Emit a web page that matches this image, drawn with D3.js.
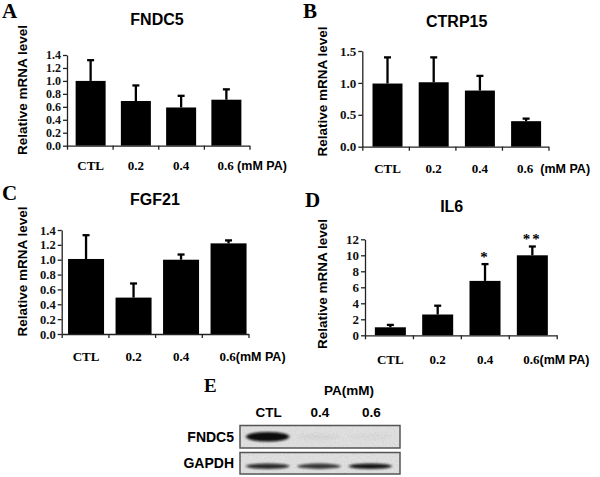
<!DOCTYPE html>
<html>
<head>
<meta charset="utf-8">
<title>PA treatment</title>
<script src="https://d3js.org/d3.v7.min.js"></script>
<style>
  body { margin: 0; background: #fff; }
  svg { display: block; }
  .serif { font-family: "Liberation Serif", "Times New Roman", serif; font-weight: bold; }
  .sans { font-family: "Liberation Sans", Arial, sans-serif; font-weight: bold; }
  .axis path, .axis line { stroke: #222; stroke-width: 1.3px; }
  .axis text { font-family: "Liberation Serif", "Times New Roman", serif; font-weight: bold; fill: #111; }
</style>
</head>
<body>
<div id="fig"></div>
<script>
// data
var groups = ["CTL", "0.2", "0.4", "0.6"];

var fndc5Mean = [1.00, 0.69, 0.59, 0.71];
var fndc5Sd   = [0.32, 0.24, 0.18, 0.16];

var ctrp15Mean = [0.99, 1.01, 0.88, 0.40];
var ctrp15Sd   = [0.41, 0.39, 0.23, 0.04];

var fgf21Mean = [1.01, 0.49, 1.00, 1.22];
var fgf21Sd   = [0.32, 0.19, 0.07, 0.04];

var il6Mean = [1.0, 2.6, 6.8, 10.0];
var il6Sd   = [0.3, 1.1, 2.1, 1.1];
var il6Sig  = ["", "", "*", "**"];

var ticksFine = [0, 0.2, 0.4, 0.6, 0.8, 1.0, 1.2, 1.4];
var ticksHalf = [0, 0.5, 1.0, 1.5];
var ticksIl6  = [0, 2, 4, 6, 8, 10, 12];

var blotLanes = ["CTL", "0.4", "0.6"];
var fndc5Blot = [1.0, 0.03, 0.02];
var gapdhBlot = [0.85, 0.8, 0.95];

var W = 600, H = 477;

var svg = d3.select("#fig").append("svg")
  .attr("width", W)
  .attr("height", H);

var defs = svg.append("defs");
var blur = defs.append("filter").attr("id", "bandBlur")
  .attr("x", "-30%").attr("y", "-150%").attr("width", "160%").attr("height", "400%");
blur.append("feGaussianBlur").attr("stdDeviation", "1.8 1.3");

var grain = defs.append("filter").attr("id", "grain")
  .attr("x", 0).attr("y", 0).attr("width", 1).attr("height", 1);
grain.append("feTurbulence").attr("type", "fractalNoise")
  .attr("baseFrequency", 0.9).attr("numOctaves", 2).attr("seed", 3);
grain.append("feColorMatrix").attr("type", "saturate").attr("values", 0);

// one entry per chart panel; positions only
var panels = [
  { letter: "A", title: "FNDC5", mean: fndc5Mean, sd: fndc5Sd, ticks: ticksFine, fmt: ".1f", max: 1.4, tfs: 12,
    lx: 2, ly: 18, tx: 157, ty: 25, ax0: 67, ax1: 249.5, bx0: 68, bx1: 249,
    y0: 145.7, y1: 55, labY: 170, unit: " (mM PA)", ylx: 27, yly: 90, barW: 30 },
  { letter: "B", title: "CTRP15", mean: ctrp15Mean, sd: ctrp15Sd, ticks: ticksHalf, fmt: ".1f", max: 1.5, tfs: 13,
    lx: 303, ly: 18, tx: 456.7, ty: 26.5, ax0: 362.3, ax1: 548.5, bx0: 364.4, bx1: 549.2,
    y0: 146.7, y1: 51, labY: 173, unit: "  (mM PA)", ylx: 327, yly: 91.5, barW: 30 },
  { letter: "C", title: "FGF21", mean: fgf21Mean, sd: fgf21Sd, ticks: ticksFine, fmt: ".1f", max: 1.4, tfs: 12.5,
    lx: 2, ly: 200, tx: 155, ty: 205, ax0: 61.7, ax1: 248.5, bx0: 62.3, bx1: 252.3,
    y0: 334, y1: 230, labY: 361, unit: "(mM PA)", ylx: 26.5, yly: 271.5, barW: 36 },
  { letter: "D", title: "IL6", mean: il6Mean, sd: il6Sd, sig: il6Sig, ticks: ticksIl6, fmt: "d", max: 12, tfs: 13,
    lx: 305, ly: 206.5, tx: 451.7, ty: 211.7, ax0: 365, ax1: 556.7, bx0: 366.7, bx1: 556,
    y0: 335.3, y1: 239.3, labY: 364, unit: "(mM PA)", ylx: 326.5, yly: 284, barW: 31 }
];

panels.forEach(function(p) {
  var g = svg.append("g");

  var y = d3.scaleLinear().domain([0, p.max]).range([p.y0, p.y1]);
  var step = (p.bx1 - p.bx0) / groups.length;
  var pad = 1 - p.barW / step;
  var x = d3.scaleBand().domain(groups).range([p.bx0, p.bx1])
    .paddingInner(pad).paddingOuter(pad / 2);

  var rows = groups.map(function(k, i) {
    return { k: k, m: p.mean[i], sd: p.sd[i], sig: p.sig ? p.sig[i] : "" };
  });

  // panel letter + title
  g.append("text").attr("class", "serif")
    .attr("x", p.lx).attr("y", p.ly)
    .style("font-size", "21px")
    .text(p.letter);

  g.append("text").attr("class", "sans")
    .attr("x", p.tx).attr("y", p.ty)
    .attr("text-anchor", "middle")
    .style("font-size", "16px")
    .text(p.title);

  g.append("text").attr("class", "sans")
    .attr("transform", "translate(" + p.ylx + "," + p.yly + ") rotate(-90)")
    .attr("text-anchor", "middle")
    .style("font-size", "13.5px")
    .text("Relative mRNA level");

  // bars
  g.selectAll("rect.bar")
    .data(rows)
    .enter()
    .append("rect")
    .attr("class", "bar")
    .attr("x", function(d) { return x(d.k); })
    .attr("width", x.bandwidth())
    .attr("y", function(d) { return y(d.m); })
    .attr("height", function(d) { return y(0) - y(d.m); })
    .attr("fill", "#000");

  // upper error bars
  var eb = g.selectAll("g.err")
    .data(rows)
    .enter()
    .append("g")
    .attr("class", "err")
    .attr("stroke", "#000")
    .attr("stroke-width", 2.3);

  eb.append("line")
    .attr("x1", function(d) { return x(d.k) + x.bandwidth() / 2; })
    .attr("x2", function(d) { return x(d.k) + x.bandwidth() / 2; })
    .attr("y1", function(d) { return y(d.m); })
    .attr("y2", function(d) { return y(d.m + d.sd); });

  eb.append("line")
    .attr("x1", function(d) { return x(d.k) + x.bandwidth() / 2 - 3.5; })
    .attr("x2", function(d) { return x(d.k) + x.bandwidth() / 2 + 3.5; })
    .attr("y1", function(d) { return y(d.m + d.sd); })
    .attr("y2", function(d) { return y(d.m + d.sd); });

  // significance marks
  g.selectAll("text.sig")
    .data(rows.filter(function(d) { return d.sig; }))
    .enter()
    .append("text")
    .attr("class", "sig serif")
    .attr("x", function(d) { return x(d.k) + x.bandwidth() / 2; })
    .attr("y", function(d) { return y(d.m + d.sd) - 2.5; })
    .attr("text-anchor", "middle")
    .style("font-size", "15px")
    .style("letter-spacing", "2px")
    .text(function(d) { return d.sig; });

  // axes
  g.append("g")
    .attr("class", "axis")
    .attr("transform", "translate(" + p.ax0 + ",0)")
    .call(d3.axisLeft(y).tickValues(p.ticks).tickFormat(d3.format(p.fmt))
      .tickSize(4).tickSizeOuter(0).tickPadding(2))
    .selectAll("text").style("font-size", p.tfs + "px");

  var xt = d3.scaleLinear().domain([0, groups.length]).range([p.ax0, p.ax1]);
  g.append("g")
    .attr("class", "axis")
    .attr("transform", "translate(0," + p.y0 + ")")
    .call(d3.axisBottom(xt).tickValues(d3.range(groups.length + 1))
      .tickFormat("").tickSize(4).tickSizeOuter(0));

  // category labels
  g.selectAll("text.cat")
    .data(groups.slice(0, -1))
    .enter()
    .append("text")
    .attr("class", "cat serif")
    .attr("x", function(d) { return x(d) + x.bandwidth() / 2; })
    .attr("y", p.labY)
    .attr("text-anchor", "middle")
    .style("font-size", "13px")
    .text(function(d) { return d; });

  var last = groups[groups.length - 1];
  var lt = g.append("text")
    .attr("x", x(last) + x.bandwidth() / 2 - 9)
    .attr("y", p.labY)
    .attr("xml:space", "preserve");
  lt.append("tspan").attr("class", "serif").style("font-size", "13px").text(last);
  lt.append("tspan").attr("class", "sans").style("font-size", "12.5px").text(p.unit);
});

// panel E: western blot
var lane = d3.scaleBand().domain(blotLanes).range([242, 396]);
var boxX0 = 240, boxX1 = 400;
var blots = [
  { name: "FNDC5", vals: fndc5Blot, top: 425.5, h: 22.5, ry: 4.8, dy: 0 },
  { name: "GAPDH", vals: gapdhBlot, top: 452.5, h: 21.5, ry: 2.8, dy: 3 }
];

var eg = svg.append("g");
eg.append("text").attr("class", "serif")
  .attr("x", 204).attr("y", 392)
  .style("font-size", "19px")
  .text("E");

eg.append("text").attr("class", "sans")
  .attr("x", lane("0.4") + lane.bandwidth() / 2 + 30)
  .attr("y", 395)
  .attr("text-anchor", "middle")
  .style("font-size", "13.5px")
  .text("PA(mM)");

eg.selectAll("text.lane")
  .data(blotLanes)
  .enter()
  .append("text")
  .attr("class", "lane sans")
  .attr("x", function(d) { return lane(d) + lane.bandwidth() / 2 + 1; })
  .attr("y", 416.5)
  .attr("text-anchor", "middle")
  .style("font-size", "13.5px")
  .text(function(d) { return d; });

blots.forEach(function(b) {
  var bg = eg.append("g");
  bg.append("rect")
    .attr("x", boxX0).attr("y", b.top)
    .attr("width", boxX1 - boxX0).attr("height", b.h)
    .attr("fill", "#e4e4e4");
  bg.append("rect")
    .attr("x", boxX0).attr("y", b.top)
    .attr("width", boxX1 - boxX0).attr("height", b.h)
    .attr("fill", "#fff")
    .attr("filter", "url(#grain)")
    .attr("opacity", 0.35);

  bg.selectAll("ellipse")
    .data(b.vals.map(function(v, i) { return { lane: blotLanes[i], v: v }; }))
    .enter()
    .append("ellipse")
    .attr("cx", function(d) { return lane(d.lane) + lane.bandwidth() / 2; })
    .attr("cy", b.top + b.h / 2 + b.dy)
    .attr("rx", lane.bandwidth() * 0.42)
    .attr("ry", function(d) { return b.ry * (0.7 + 0.3 * d.v); })
    .attr("fill", "#0a0a0a")
    .attr("opacity", function(d) { return d.v; })
    .attr("filter", "url(#bandBlur)");

  bg.append("rect")
    .attr("x", boxX0).attr("y", b.top)
    .attr("width", boxX1 - boxX0).attr("height", b.h)
    .attr("fill", "none")
    .attr("stroke", "#555")
    .attr("stroke-width", 1.5);

  eg.append("text").attr("class", "sans")
    .attr("x", 234).attr("y", b.top + b.h / 2 + 5)
    .attr("text-anchor", "end")
    .style("font-size", "14px")
    .text(b.name);
});
</script>
</body>
</html>
